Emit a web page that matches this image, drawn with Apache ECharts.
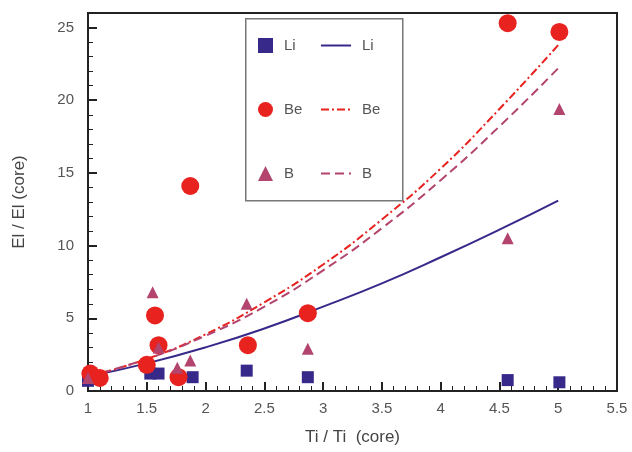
<!DOCTYPE html>
<html>
<head>
<meta charset="utf-8">
<script src="https://cdn.jsdelivr.net/npm/echarts@6/dist/echarts.min.js"></script>
<style>html,body{margin:0;padding:0;background:#fff}#c{width:632px;height:452px}</style>
</head>
<body>
<div id="c"></div>
<script>
// Scatter data [Ti/Ti(core), El/El(core)]
const liPoints = [[1.0,0.7],[1.53,1.2],[1.6,1.2],[1.89,0.95],[2.35,1.4],[2.87,0.95],[4.57,0.75],[5.01,0.6]];
const bePoints = [[1.02,1.2],[1.1,0.9],[1.5,1.8],[1.57,5.2],[1.6,3.15],[1.77,0.95],[1.87,14.1],[2.36,3.15],[2.87,5.35],[4.57,25.3],[5.01,24.7]];
const bPoints  = [[1.0,0.9],[1.55,6.8],[1.6,3.0],[1.76,1.6],[1.87,2.1],[2.35,6.0],[2.87,2.9],[4.57,10.5],[5.01,19.4]];
// Fit curves
const fitX  = [1, 1.5, 2, 2.5, 3, 3.5, 4, 4.5, 5];
const liFit = [1, 1.9, 3.0, 4.3, 5.8, 7.4, 9.2, 11.1, 13.1];
const beFit = [1, 2.2, 3.9, 6.1, 8.7, 11.8, 15.3, 19.4, 23.8];
const bFit  = [1, 2.2, 3.8, 5.8, 8.3, 11.2, 14.5, 18.2, 22.2];
const names = ['Li', 'Be', 'B'];

const pair = (xs, ys) => xs.map((x, i) => [x, ys[i]]);
const cLi = '#36298a', cBe = '#e8221f', cB = '#b2446e';
const font = 'Liberation Sans, Arial, sans-serif';

const chart = echarts.init(document.getElementById('c'));
chart.setOption({
  animation: false,
  textStyle: { fontFamily: font },
  grid: { left: 88, right: 15, top: 13, bottom: 61, show: true, borderColor: '#222', borderWidth: 2, backgroundColor: 'transparent' },
  xAxis: {
    type: 'value', min: 1, max: 5.5, interval: 0.5,
    name: 'Ti / Ti  (core)', nameLocation: 'middle', nameGap: 38,
    nameTextStyle: { fontSize: 17, color: '#444' },
    axisLine: { lineStyle: { color: '#222', width: 2 } },
    axisTick: { inside: true, length: 9, lineStyle: { color: '#222', width: 2 } },
    minorTick: { show: true, splitNumber: 5, length: 5, lineStyle: { color: '#222', width: 1 } },
    axisLabel: { fontSize: 15, color: '#555', margin: 10 },
    splitLine: { show: false }
  },
  yAxis: {
    type: 'value', min: 0, max: 26, interval: 5,
    name: 'El / El (core)', nameLocation: 'middle', nameGap: 60,
    nameTextStyle: { fontSize: 17, color: '#444' },
    axisLine: { lineStyle: { color: '#222', width: 2 } },
    axisTick: { inside: true, length: 9, lineStyle: { color: '#222', width: 2 } },
    minorTick: { show: true, splitNumber: 5, length: 5, lineStyle: { color: '#222', width: 1 } },
    axisLabel: { fontSize: 15, color: '#555', margin: 14, showMaxLabel: false },
    splitLine: { show: false }
  },
  graphic: [{
    type: 'rect', left: 245, top: 18, z: 0,
    shape: { width: 157, height: 182 },
    style: { fill: 'transparent', stroke: '#777', lineWidth: 1.5 }
  }],
  legend: [{
    data: [
      { name: 'Li', icon: 'rect' },
      { name: 'Be', icon: 'circle' },
      { name: 'B', icon: 'triangle' }
    ],
    orient: 'vertical', left: 258, top: 38, padding: 0,
    itemGap: 49, itemWidth: 15, itemHeight: 15,
    itemStyle: { opacity: 1 },
    textStyle: { fontSize: 15, color: '#555', padding: [0, 0, 0, 6] }
  }, {
    data: names.map(n => n + ' '), orient: 'vertical', left: 320, top: 38, padding: 0,
    itemGap: 49, itemWidth: 30, itemHeight: 14,
    itemStyle: { opacity: 0 },
    lineStyle: { opacity: 1 },
    formatter: n => n.trim(),
    textStyle: { fontSize: 15, color: '#555', padding: [0, 0, 0, 6] }
  }],
  series: [
    { name: 'Li ', type: 'line', data: pair(fitX, liFit), smooth: true, showSymbol: false, symbol: 'none',
      lineStyle: { color: cLi, width: 2, type: 'solid' }, itemStyle: { color: cLi }, z: 2 },
    { name: 'Be ', type: 'line', data: pair(fitX, beFit), smooth: true, showSymbol: false, symbol: 'none',
      lineStyle: { color: cBe, width: 2, type: [8, 3, 2, 3] }, itemStyle: { color: cBe }, z: 2 },
    { name: 'B ', type: 'line', data: pair(fitX, bFit), smooth: true, showSymbol: false, symbol: 'none',
      lineStyle: { color: cB, width: 2, type: [9, 5] }, itemStyle: { color: cB }, z: 2 },
    { name: 'Li', type: 'scatter', data: liPoints, symbol: 'rect', symbolSize: 12, itemStyle: { color: cLi, opacity: 1 }, z: 3 },
    { name: 'Be', type: 'scatter', data: bePoints, symbol: 'circle', symbolSize: 18, itemStyle: { color: cBe, opacity: 1 }, z: 4 },
    { name: 'B', type: 'scatter', data: bPoints, symbol: 'triangle', symbolSize: 12, itemStyle: { color: cB, opacity: 1 }, z: 5 }
  ]
});
</script>
</body>
</html>
